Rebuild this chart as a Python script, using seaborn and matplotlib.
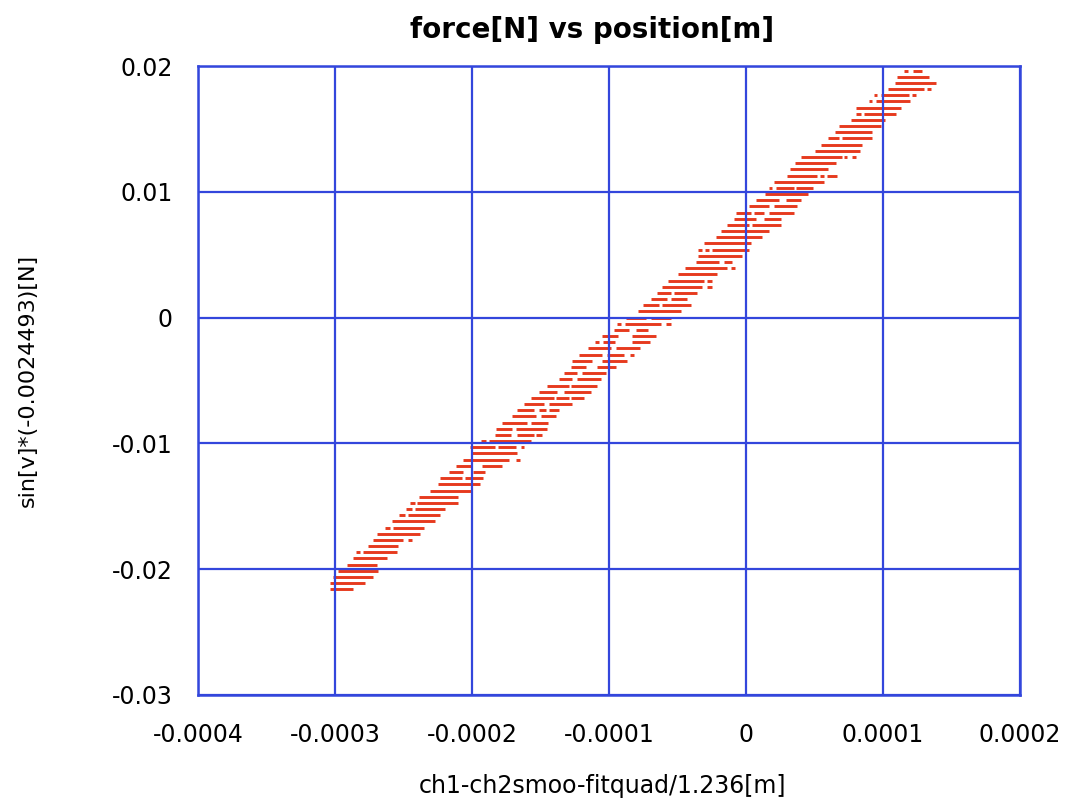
import matplotlib
matplotlib.use("Agg")
import matplotlib.pyplot as plt
import pandas as pd
import seaborn as sns

# Force is recorded in ADC counts; one count corresponds to this many newtons.
FORCE_STEP = 0.000491

# Each horizontal dash: force level (counts) and the position span it covers (micrometres).
seg_counts = [
    40, 40, 39, 38, 37, 37, 36, 36, 36, 35, 35, 34, 33, 33, 32, 31, 30, 29, 29, 28, 27,
    26, 26, 26, 25, 24, 23, 23, 23, 22, 21, 21, 21, 20, 19, 19, 18, 18, 17, 17, 17,
    16, 16, 15, 15, 14, 13, 12, 11, 11, 11, 10, 9, 9, 8, 8, 7, 6, 6, 5, 5, 4, 4,
    3, 3, 2, 2, 1, 0, 0, -1, -1, -1, -2, -2, -3, -3, -4, -4, -4, -5, -5,
    -6, -6, -6, -7, -7, -8, -8, -9, -9, -10, -10, -11, -11, -12, -12,
    -13, -13, -13, -14, -14, -15, -15, -15, -16, -16, -17, -17, -18, -18,
    -19, -19, -19, -20, -20, -21, -21, -21, -22, -23, -23, -24, -24, -25, -25,
    -26, -26, -27, -28, -29, -30, -30, -31, -31, -32, -32, -33, -34, -34, -35,
    -36, -36, -37, -38, -38, -39, -40, -41, -42, -43, -44,
]
seg_start_um = [
    115.3, 121.9, 110.2, 108.8, 103.6, 132.1, 93.4, 98.5, 121.2, 89.8, 94.9, 80.3, 80.3, 86.1, 76.6, 67.9, 65.0, 59.9, 70.1, 54.7, 50.4,
    40.1, 71.5, 77.4, 35.8, 32.1, 29.9, 54.0, 59.1, 20.4, 16.8, 21.9, 36.5, 13.9, 7.3, 29.2, 2.2, 20.4, -7.3, 5.8, 16.8,
    -8.8, 13.1, -13.9, 4.4, -18.2, -21.9, -30.7, -35.0, -29.9, -24.8, -35.0, -36.5, -16.1, -44.5, -10.9, -49.6, -56.9, -28.5, -61.3, -28.5, -65.0, -52.6,
    -69.3, -54.7, -75.2, -61.3, -78.8, -87.6, -69.3, -94.2, -88.3, -58.4, -96.4, -80.3, -105.1, -83.2, -110.2, -104.4, -83.2, -115.3, -94.9,
    -121.9, -101.5, -84.7, -127.0, -105.1, -127.7, -108.8, -132.8, -119.7, -136.5, -123.4, -145.3, -127.7, -151.1, -132.8,
    -156.9, -138.7, -127.7, -162.0, -143.8, -167.2, -151.1, -143.8, -170.8, -149.6, -178.1, -156.9, -182.5, -167.9,
    -183.2, -167.2, -153.3, -193.4, -187.6, -201.5, -181.0, -164.2, -200.0, -206.6, -167.9, -211.7, -192.7, -216.8, -199.3,
    -223.4, -205.1, -224.8, -230.7, -238.7, -245.3, -240.1, -248.2, -241.6, -253.3, -246.7, -258.4, -263.5, -257.7, -269.3,
    -272.3, -246.7, -275.9, -284.7, -279.6, -286.9, -291.2, -297.8, -301.5, -303.6, -303.6,
]
seg_end_um = [
    118.2, 128.5, 133.6, 138.7, 129.9, 135.0, 95.6, 119.0, 124.1, 92.0, 119.7, 113.1, 83.9, 109.5, 101.5, 98.5, 92.0, 67.9, 92.0, 84.7, 83.2,
    70.1, 73.7, 80.3, 65.7, 59.9, 51.8, 56.9, 66.4, 56.9, 19.0, 35.0, 48.9, 45.3, 24.1, 40.1, 16.8, 37.2, 3.6, 13.1, 35.0,
    7.3, 25.5, 2.2, 25.5, 16.8, 11.7, 3.6, -32.1, -27.0, 2.2, -2.9, -19.7, -10.2, -13.9, -8.0, -21.2, -30.7, -24.8, -32.1, -24.8, -54.7, -35.8,
    -57.7, -43.1, -63.5, -40.1, -47.4, -73.0, -54.7, -91.2, -62.0, -54.7, -85.4, -71.5, -93.4, -65.7, -107.3, -95.6, -70.1, -98.5, -77.4,
    -105.1, -89.1, -81.8, -112.4, -86.9, -116.8, -94.9, -123.4, -102.2, -127.0, -105.8, -129.2, -108.8, -138.0, -113.1,
    -140.1, -129.2, -118.2, -147.4, -127.0, -154.7, -146.0, -136.5, -153.3, -138.7, -159.9, -144.5, -170.8, -145.3,
    -171.5, -154.7, -148.9, -189.8, -156.9, -183.2, -167.9, -162.0, -167.2, -173.0, -165.0, -200.0, -178.1, -206.6, -190.5,
    -207.3, -192.0, -194.2, -200.0, -210.2, -241.6, -210.2, -243.8, -219.7, -248.9, -223.4, -227.0, -259.9, -235.0, -238.0,
    -250.4, -243.8, -254.0, -281.8, -254.7, -262.0, -269.3, -268.6, -272.3, -278.1, -286.9,
]

x_ticks = [-0.0004, -0.0003, -0.0002, -0.0001, 0.0, 0.0001, 0.0002]
x_tick_labels = ["-0.0004", "-0.0003", "-0.0002", "-0.0001", "0", "0.0001", "0.0002"]
y_ticks = [-0.03, -0.02, -0.01, 0.0, 0.01, 0.02]
y_tick_labels = ["-0.03", "-0.02", "-0.01", "0", "0.01", "0.02"]

RED = "#e63a1e"
BLUE = "#3346dc"

# Long-form table: two points (start, end) per dash, grouped by dash id.
records = []
for i, (k, a, b) in enumerate(zip(seg_counts, seg_start_um, seg_end_um)):
    force = k * FORCE_STEP
    records.append({"dash": i, "position": a * 1e-6, "force": force})
    records.append({"dash": i, "position": b * 1e-6, "force": force})
df = pd.DataFrame(records)

sns.set_theme(style="white")
plt.rcParams["font.family"] = ["DejaVu Sans"]
plt.rcParams["text.color"] = "black"
plt.rcParams["axes.labelcolor"] = "black"

fig = plt.figure(figsize=(10.66, 8.07), dpi=100)
ax = fig.add_axes([0.1857, 0.1388, 0.7711, 0.7794])

sns.lineplot(
    data=df, x="position", y="force", units="dash", estimator=None, sort=False,
    color=RED, linewidth=2.1, legend=False, ax=ax,
)
for ln in ax.lines:
    ln.set_solid_capstyle("butt")

ax.set_xlim(-0.0004, 0.0002)
ax.set_ylim(-0.03, 0.02)
ax.set_xticks(x_ticks)
ax.set_xticklabels(x_tick_labels)
ax.set_yticks(y_ticks)
ax.set_yticklabels(y_tick_labels)
ax.tick_params(axis="both", length=0, labelsize=17, labelcolor="black")
ax.tick_params(axis="x", pad=20)
ax.tick_params(axis="y", pad=18)

ax.set_axisbelow(False)
ax.grid(True, color=BLUE, linewidth=1.6)
for sp in ax.spines.values():
    sp.set_visible(True)
    sp.set_color(BLUE)
    sp.set_linewidth(1.8)

ax.set_title("force[N] vs position[m]", fontsize=20, fontweight="bold",
             color="black", pad=20, x=0.479)
ax.set_xlabel("ch1-ch2smoo-fitquad/1.236[m]", fontsize=17, color="black")
ax.set_ylabel("sin[v]*(-0.0024493)[N]", fontsize=16, color="black")
ax.xaxis.set_label_coords(0.492, -0.125)
ax.yaxis.set_label_coords(-0.195, 0.5)

fig.savefig("out.png", dpi=100)
